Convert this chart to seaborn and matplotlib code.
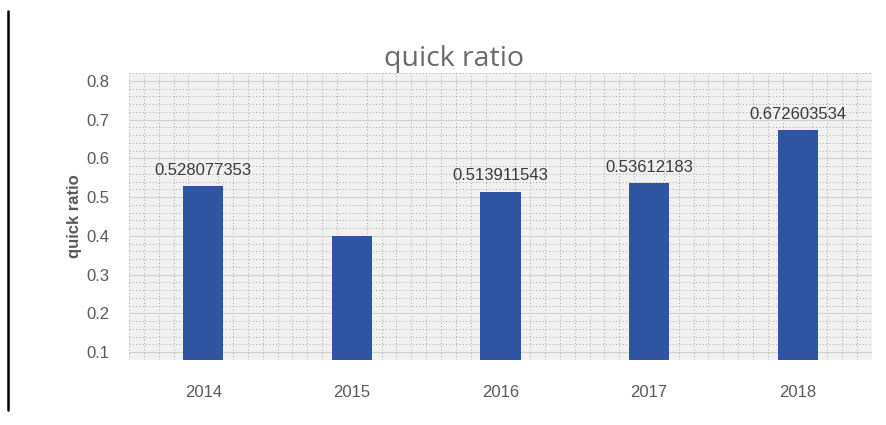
import numpy as np
import pandas as pd
import seaborn as sns
import matplotlib.pyplot as plt
from matplotlib.lines import Line2D
from matplotlib.ticker import MultipleLocator

# data
years = ['2014', '2015', '2016', '2017', '2018']
quick_ratio = [0.528077353, 0.40, 0.513911543, 0.53612183, 0.672603534]
value_labels = ['0.528077353', None, '0.513911543', '0.53612183', '0.672603534']
y_ticks = [0.1, 0.2, 0.3, 0.4, 0.5, 0.6, 0.7, 0.8]

df = pd.DataFrame({'year': years, 'quick_ratio': quick_ratio})

sns.set_style('white')
plt.rcParams['font.family'] = ['Liberation Sans', 'DejaVu Sans']

fig = plt.figure(figsize=(8.87, 4.25), dpi=100)
ax = fig.add_axes([0.1454, 0.153, 0.8376, 0.675])

ax.set_facecolor('#f1f1f1')
ax.set_axisbelow(True)
ax.xaxis.set_minor_locator(MultipleLocator(0.1))
ax.yaxis.set_minor_locator(MultipleLocator(0.02))
ax.grid(which='major', axis='y', color='#d0d0d0', linewidth=0.8)
ax.grid(which='minor', color='#8a8a8a', linewidth=0.6, linestyle=(0, (1, 3)))

sns.barplot(data=df, x='year', y='quick_ratio', color='#2f55a2', width=0.27,
            saturation=1, linewidth=0, ax=ax, zorder=3)

for i, lab in enumerate(value_labels):
    if lab is None:
        continue
    ax.annotate(lab, (i, quick_ratio[i]), xytext=(0, 6), textcoords='offset points',
                ha='center', va='bottom', fontsize=12, color='#3a3a3a', zorder=4)

ax.set_xlim(-0.5, 4.5)
ax.set_ylim(0.08, 0.82)
ax.set_yticks(y_ticks)
ax.set_yticklabels([f'{t:.1f}' for t in y_ticks])
ax.tick_params(axis='y', labelsize=12, labelcolor='#595959', pad=14, length=0)
ax.tick_params(axis='x', labelsize=12, labelcolor='#595959', pad=18, length=0)
ax.tick_params(which='minor', length=0)
for s in ax.spines.values():
    s.set_visible(False)

ax.set_xlabel('')
ax.set_ylabel('quick ratio', fontsize=12, fontweight='bold', color='#595959', labelpad=3)

fig.text(0.512, 0.862, 'quick ratio', ha='center', va='center', fontsize=20.5,
         color='#6a6a6a', family=['Open Sans', 'DejaVu Sans'])

# left border line of the screenshot
fig.add_artist(Line2D([0.0085, 0.0085], [0.035, 0.975], color='black', linewidth=1.8))

fig.savefig('out.png', dpi=100)
